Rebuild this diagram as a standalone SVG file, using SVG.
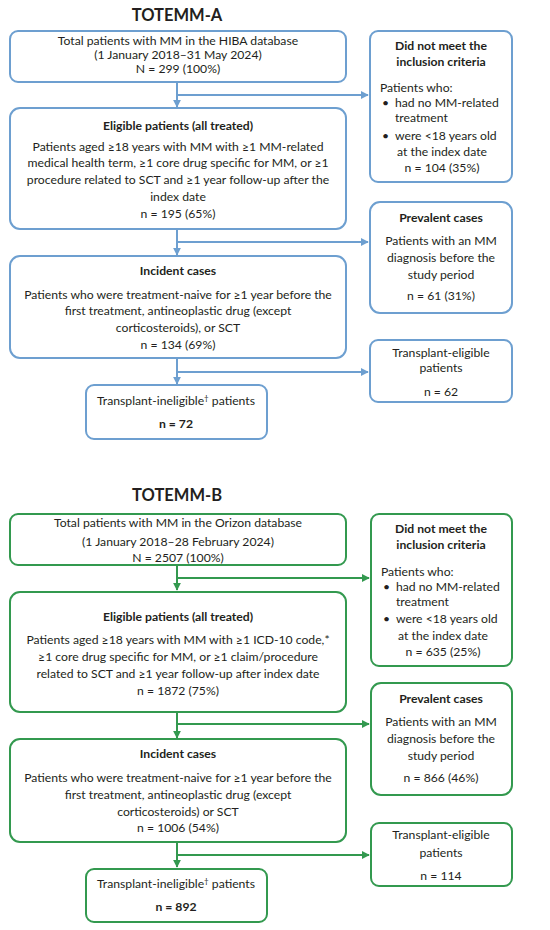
<svg xmlns="http://www.w3.org/2000/svg" width="550" height="930" viewBox="0 0 550 930">
<defs>
<style>
text{font-family:Lato,"Liberation Sans",sans-serif;font-size:12.2px;fill:#231f20;text-anchor:middle}
.t{font-size:16.5px;font-weight:bold}
.b{font-weight:bold}
.l{text-anchor:start}
.bl rect{fill:#fff;stroke:#6d9fd0;stroke-width:2}
.gr rect{fill:#fff;stroke:#33994f;stroke-width:2}
.cb{fill:none;stroke:#6d9fd0;stroke-width:2}
.cg{fill:none;stroke:#33994f;stroke-width:2}
</style>
<marker id="ab" viewBox="0 0 10 10" refX="9" refY="5" markerWidth="4" markerHeight="4" orient="auto" markerUnits="strokeWidth"><path d="M0,0L10,5L0,10z" fill="#6d9fd0"/></marker>
<marker id="ag" viewBox="0 0 10 10" refX="9" refY="5" markerWidth="4" markerHeight="4" orient="auto" markerUnits="strokeWidth"><path d="M0,0L10,5L0,10z" fill="#33994f"/></marker>
</defs>
<rect width="550" height="930" fill="#fff"/>

<text class="t" x="177" y="21">TOTEMM-A</text>

<g id="connectors-a">
<path class="cb" d="M177,82V107" marker-end="url(#ab)"/>
<path class="cb" d="M177,95H368" marker-end="url(#ab)"/>
<path class="cb" d="M177,229V255" marker-end="url(#ab)"/>
<path class="cb" d="M177,242H368" marker-end="url(#ab)"/>
<path class="cb" d="M177,358V384" marker-end="url(#ab)"/>
<path class="cb" d="M177,372H368" marker-end="url(#ab)"/>
</g>

<g id="a-total" class="bl">
<rect x="10" y="31" width="336" height="51" rx="8"/>
<text x="178" y="45">Total patients with MM in the HIBA database</text>
<text x="178" y="59">(1 January 2018–31 May 2024)</text>
<text x="178" y="73">N = 299 (100%)</text>
</g>

<g id="a-excluded" class="bl">
<rect x="370" y="31" width="142" height="151" rx="8"/>
<text class="b" x="441" y="50">Did not meet the</text>
<text class="b" x="441" y="66">inclusion criteria</text>
<text class="l" x="380" y="92">Patients who:</text>
<text class="l" x="382" y="107">•</text>
<text class="l" x="395" y="107">had no MM-related</text>
<text class="l" x="395" y="122">treatment</text>
<text class="l" x="382" y="140">•</text>
<text class="l" x="395" y="140">were &lt;18 years old</text>
<text x="442" y="156">at the index date</text>
<text x="442" y="172">n = 104 (35%)</text>
</g>

<g id="a-eligible" class="bl">
<rect x="10" y="108" width="336" height="121" rx="10"/>
<text class="b" x="178" y="130">Eligible patients (all treated)</text>
<text x="178" y="151">Patients aged ≥18 years with MM with ≥1 MM-related</text>
<text x="178" y="167">medical health term, ≥1 core drug specific for MM, or ≥1</text>
<text x="178" y="184">procedure related to SCT and ≥1 year follow-up after the</text>
<text x="178" y="201">index date</text>
<text x="178" y="218">n = 195 (65%)</text>
</g>

<g id="a-prevalent" class="bl">
<rect x="370" y="202" width="142" height="111" rx="10"/>
<text class="b" x="441" y="222">Prevalent cases</text>
<text x="441" y="245">Patients with an MM</text>
<text x="441" y="262">diagnosis before the</text>
<text x="441" y="279">study period</text>
<text x="441" y="300">n = 61  (31%)</text>
</g>

<g id="a-incident" class="bl">
<rect x="10" y="256" width="336" height="102" rx="10"/>
<text class="b" x="178" y="275">Incident cases</text>
<text x="178" y="299">Patients who were treatment-naive for ≥1 year before the</text>
<text x="178" y="315">first treatment, antineoplastic drug (except</text>
<text x="178" y="332">corticosteroids), or SCT</text>
<text x="178" y="349">n = 134 (69%)</text>
</g>

<g id="a-te" class="bl">
<rect x="370" y="340" width="142" height="62" rx="8"/>
<text x="441" y="357">Transplant-eligible</text>
<text x="441" y="372">patients</text>
<text x="441" y="396">n = 62</text>
</g>

<g id="a-ti" class="bl">
<rect x="86" y="385" width="181" height="54" rx="8"/>
<text x="176" y="405">Transplant-ineligible<tspan font-size="8" dy="-4">†</tspan><tspan dy="4"> patients</tspan></text>
<text class="b" x="176" y="428">n = 72</text>
</g>

<text class="t" x="177" y="501">TOTEMM-B</text>

<g id="connectors-b">
<path class="cg" d="M177,565V590" marker-end="url(#ag)"/>
<path class="cg" d="M177,578H369" marker-end="url(#ag)"/>
<path class="cg" d="M177,712V738" marker-end="url(#ag)"/>
<path class="cg" d="M177,724H369" marker-end="url(#ag)"/>
<path class="cg" d="M177,842V867" marker-end="url(#ag)"/>
<path class="cg" d="M177,855H369" marker-end="url(#ag)"/>
</g>

<g id="b-total" class="gr">
<rect x="10" y="514" width="336" height="51" rx="8"/>
<text x="178" y="527">Total patients with MM in the Orizon database</text>
<text x="178" y="546">(1 January 2018–28 February 2024)</text>
<text x="178" y="562">N = 2507 (100%)</text>
</g>

<g id="b-excluded" class="gr">
<rect x="371" y="514" width="141" height="152" rx="8"/>
<text class="b" x="441" y="533">Did not meet the</text>
<text class="b" x="441" y="549">inclusion criteria</text>
<text class="l" x="381" y="576">Patients who:</text>
<text class="l" x="383" y="591">•</text>
<text class="l" x="396" y="591">had no MM-related</text>
<text class="l" x="396" y="606">treatment</text>
<text class="l" x="383" y="623">•</text>
<text class="l" x="396" y="623">were &lt;18 years old</text>
<text x="443" y="640">at the index date</text>
<text x="443" y="656">n = 635 (25%)</text>
</g>

<g id="b-eligible" class="gr">
<rect x="10" y="592" width="336" height="120" rx="10"/>
<text class="b" x="178" y="621">Eligible patients (all treated)</text>
<text x="178" y="644">Patients aged ≥18 years with MM with ≥1 ICD-10 code,*</text>
<text x="178" y="661">≥1 core drug specific for MM, or ≥1 claim/procedure</text>
<text x="178" y="678">related to SCT and ≥1 year follow-up after index date</text>
<text x="178" y="695">n = 1872 (75%)</text>
</g>

<g id="b-prevalent" class="gr">
<rect x="371" y="683" width="141" height="112" rx="10"/>
<text class="b" x="441" y="703">Prevalent cases</text>
<text x="441" y="726">Patients with an MM</text>
<text x="441" y="743">diagnosis before the</text>
<text x="441" y="760">study period</text>
<text x="441" y="782">n = 866 (46%)</text>
</g>

<g id="b-incident" class="gr">
<rect x="10" y="739" width="336" height="103" rx="10"/>
<text class="b" x="178" y="758">Incident cases</text>
<text x="178" y="782">Patients who were treatment-naive for ≥1 year before the</text>
<text x="178" y="799">first treatment, antineoplastic drug (except</text>
<text x="178" y="816">corticosteroids) or SCT</text>
<text x="178" y="832">n = 1006 (54%)</text>
</g>

<g id="b-te" class="gr">
<rect x="371" y="823" width="141" height="63" rx="8"/>
<text x="441" y="839">Transplant-eligible</text>
<text x="441" y="857">patients</text>
<text x="441" y="880">n = 114</text>
</g>

<g id="b-ti" class="gr">
<rect x="86" y="869" width="181" height="53" rx="8"/>
<text x="176" y="888">Transplant-ineligible<tspan font-size="8" dy="-4">†</tspan><tspan dy="4"> patients</tspan></text>
<text class="b" x="176" y="911">n = 892</text>
</g>
</svg>
